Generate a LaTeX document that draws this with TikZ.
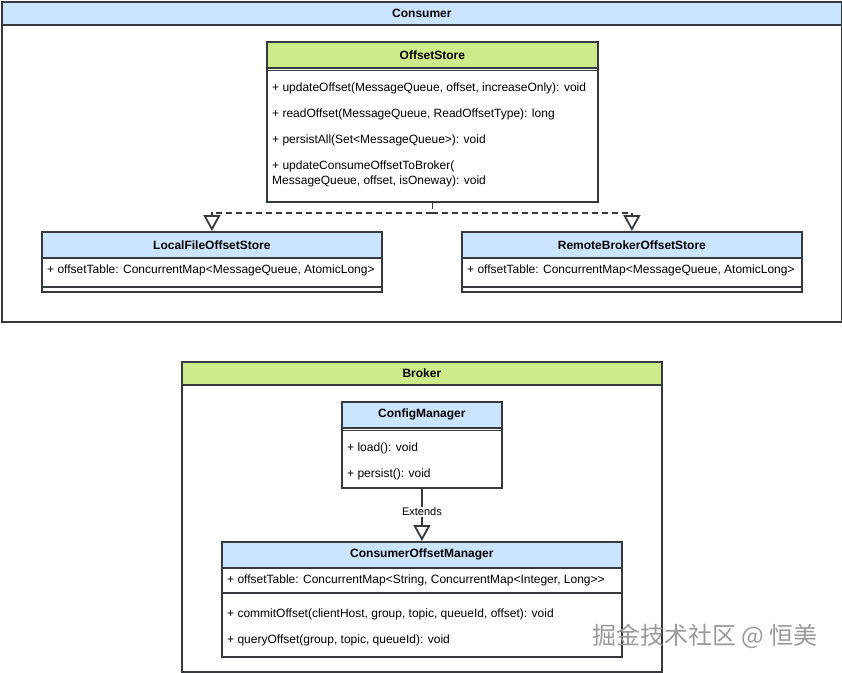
\documentclass[tikz,border=0pt]{standalone}
\usepackage{fontspec}
\setmainfont{Liberation Sans}
\newfontfamily\cjk{Noto Sans CJK SC}
\usetikzlibrary{arrows.meta}
\definecolor{hblue}{HTML}{CCE5FF}
\definecolor{hgreen}{HTML}{CDEB8B}
\definecolor{edgec}{HTML}{36393D}
\definecolor{wmark}{HTML}{9A9A9A}
\tikzset{
  frame/.style={draw=edgec, line width=1.8pt, fill=white, inner sep=0pt, anchor=north west},
  hdr/.style={frame, font=\fontsize{12}{14}\selectfont\bfseries},
  member/.style={font=\fontsize{12}{15}\selectfont, anchor=west, inner sep=0pt, align=left},
  sepline/.style={draw=edgec, line width=1.8pt},
  tri/.style={-{Triangle[length=16pt, width=17pt, fill=white, line width=1.8pt]}},
  realize/.style={draw=edgec, line width=1.8pt, dash pattern=on 6pt off 4pt, tri},
  inherit/.style={draw=edgec, line width=1.8pt, tri},
  elabel/.style={fill=white, inner sep=1pt, font=\fontsize{11}{13}\selectfont}
}
\begin{document}
\begin{tikzpicture}[x=1pt, y=-1pt]
\useasboundingbox (0,0) rectangle (842,672);

% ---------- Consumer container ----------
\node[frame, minimum width=840pt, minimum height=320pt] (consumer) at (1,1) {};
\node[hdr, fill=hblue, minimum width=840pt, minimum height=23pt] (consumerh) at (1,1) {Consumer};

% OffsetStore
\node[frame, minimum width=331pt, minimum height=160pt] (os) at (266,41) {};
\node[hdr, fill=hgreen, minimum width=331pt, minimum height=26pt] (osh) at (266,41) {OffsetStore};
\draw[sepline] (os.west |- 0,70.5) -- (os.east |- 0,70.5);
\node[member] (os1) at (272,88.5) {+ updateOffset(MessageQueue, offset, increaseOnly): void};
\node[member] (os2) at (272,114.5) {+ readOffset(MessageQueue, ReadOffsetType): long};
\node[member] (os3) at (272,140.5) {+ persistAll(Set<MessageQueue>): void};
\node[member] (os4) at (272,174) {+ updateConsumeOffsetToBroker(\\MessageQueue, offset, isOneway): void};

% LocalFileOffsetStore
\node[frame, minimum width=340pt, minimum height=60pt] (lf) at (41,231) {};
\node[hdr, fill=hblue, minimum width=340pt, minimum height=26pt] (lfh) at (41,231) {LocalFileOffsetStore};
\node[member] (lf1) at (47,270.5) {+ offsetTable: ConcurrentMap<MessageQueue, AtomicLong>};
\draw[sepline] (lf.west |- 0,287) -- (lf.east |- 0,287);

% RemoteBrokerOffsetStore
\node[frame, minimum width=340pt, minimum height=60pt] (rb) at (461,231) {};
\node[hdr, fill=hblue, minimum width=340pt, minimum height=26pt] (rbh) at (461,231) {RemoteBrokerOffsetStore};
\node[member] (rb1) at (467,270.5) {+ offsetTable: ConcurrentMap<MessageQueue, AtomicLong>};
\draw[sepline] (rb.west |- 0,287) -- (rb.east |- 0,287);

% realization edges
\draw[realize] (os.south) -- ++(0,10) -| (lfh.north);
\draw[realize] (os.south) -- ++(0,10) -| (rbh.north);

% ---------- Broker container ----------
\node[frame, minimum width=480pt, minimum height=310pt] (broker) at (181,361) {};
\node[hdr, fill=hgreen, minimum width=480pt, minimum height=23pt] (brokerh) at (181,361) {Broker};

% ConfigManager
\node[frame, minimum width=160pt, minimum height=86pt] (cm) at (341,401) {};
\node[hdr, fill=hblue, minimum width=160pt, minimum height=26pt] (cmh) at (341,401) {ConfigManager};
\draw[sepline] (cm.west |- 0,430.5) -- (cm.east |- 0,430.5);
\node[member] (cm1) at (347,448.5) {+ load(): void};
\node[member] (cm2) at (347,474.5) {+ persist(): void};

% ConsumerOffsetManager
\node[frame, minimum width=400pt, minimum height=115pt] (com) at (221,541) {};
\node[hdr, fill=hblue, minimum width=400pt, minimum height=26pt] (comh) at (221,541) {ConsumerOffsetManager};
\node[member] (com1) at (227,580.5) {+ offsetTable: ConcurrentMap<String, ConcurrentMap<Integer, Long>{}>};
\draw[sepline] (com.west |- 0,593) -- (com.east |- 0,593);
\node[member] (com2) at (227,614.5) {+ commitOffset(clientHost, group, topic, queueId, offset): void};
\node[member] (com3) at (227,640.5) {+ queryOffset(group, topic, queueId): void};

% extends edge
\draw[inherit] (cm.south) -- node[elabel, pos=0.44] (ext) {Extends} (comh.north);

% watermark
\node[font=\cjk\fontsize{24}{26}\selectfont, text=wmark, inner sep=0pt] (wm) at (705,636) {掘金技术社区 @ 恒美};
\end{tikzpicture}
\end{document}
